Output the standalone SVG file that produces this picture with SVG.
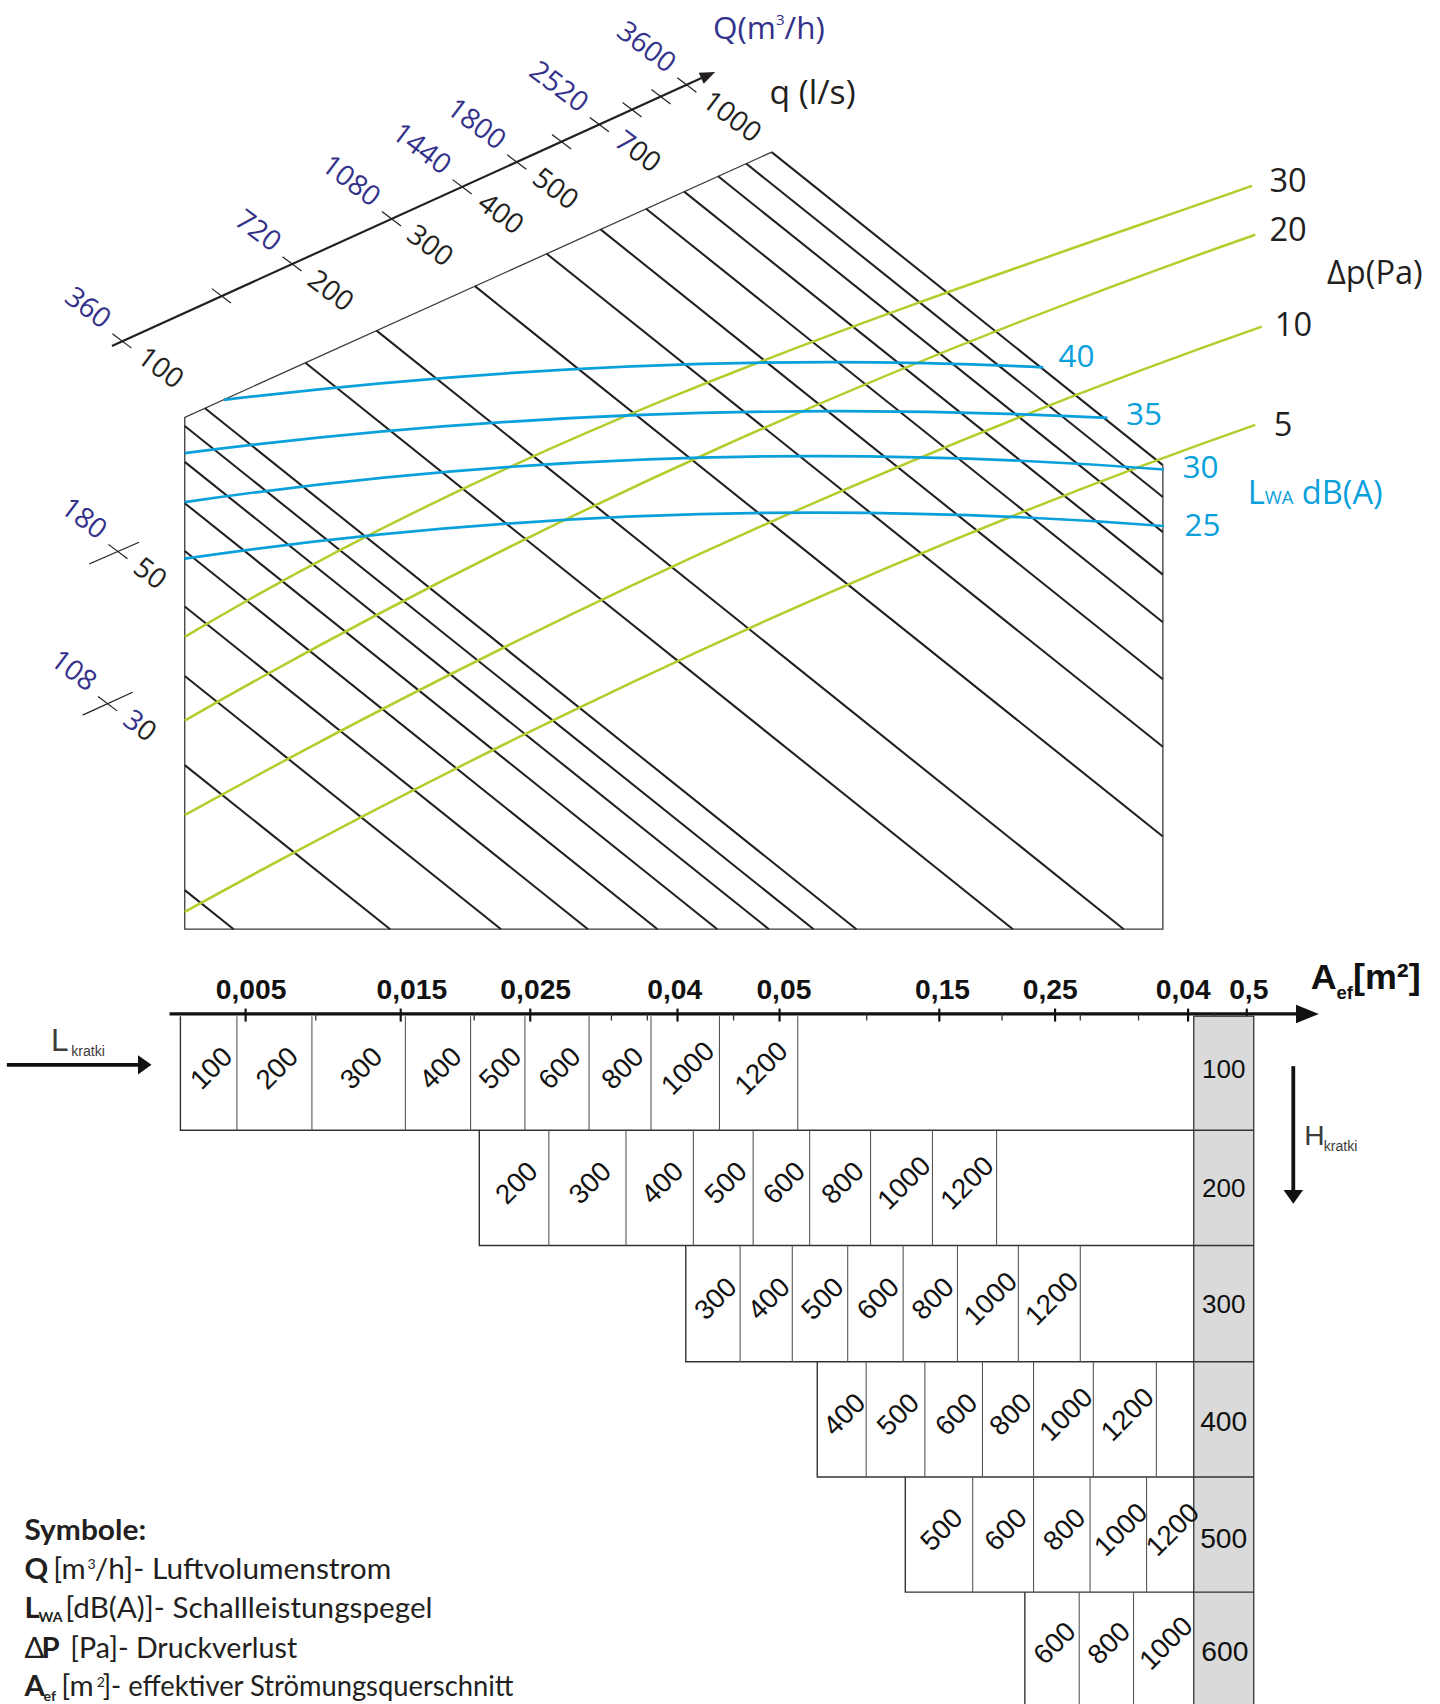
<svg xmlns="http://www.w3.org/2000/svg" width="1440" height="1704" viewBox="0 0 1440 1704">
<defs>
<style>
.blk{stroke:#231f20;stroke-width:1.9;fill:none}
.grn{stroke:#b4cc2c;stroke-width:2.3;fill:none}
.blu{stroke:#0aa0dc;stroke-width:2.5;fill:none}
.frm{stroke:#3a3a3a;stroke-width:1.2;fill:none}
.tk{stroke:#231f20;stroke-width:1.1}
.ax{stroke:#231f20;stroke-width:2}
.os{font-family:'Open Sans','Noto Sans',sans-serif}
.nv{fill:#33318a;font-family:'Open Sans','Noto Sans',sans-serif;font-size:26px}
.dk{fill:#231f20;font-family:'Open Sans','Noto Sans',sans-serif;font-size:26px}
.bl{fill:#0aa0dc;font-family:'Open Sans','Noto Sans',sans-serif;font-size:29px}
.gl{fill:#231f20;font-family:'Open Sans','Noto Sans',sans-serif;font-size:30px}
.tl{stroke:#333;stroke-width:1.3;fill:none}
.tv{stroke:#555;stroke-width:1}
.ct{font-family:'Liberation Sans',Arial,sans-serif;font-size:25.5px;fill:#111;text-anchor:middle}
.gn{font-family:'Liberation Sans',Arial,sans-serif;fill:#111;text-anchor:middle}
.al{font-family:'Liberation Sans',Arial,sans-serif;font-weight:bold;font-size:26px;fill:#111}
.lg{font-family:Lato,'Liberation Sans',sans-serif;font-size:27px;fill:#231f20}
.lb{font-weight:bold}
</style>
</defs>
<g transform="scale(1.0868)">
<g id="q-axis">
<line class="ax" x1="103" y1="318.3" x2="646" y2="71.6"/>
<polygon points="658,66.2 647.5,77 642.9,67" fill="#231f20"/>
<g transform="translate(112.2,313.7) rotate(37)"><line class="tk" x1="-11" x2="11"/><text class="nv" x="-21" y="3" text-anchor="end">360</text><text class="dk" x="21" y="7">100</text></g>
<g transform="translate(203.7,272.2) rotate(37)"><line class="tk" x1="-11" x2="11"/></g>
<g transform="translate(268.7,242.8) rotate(37)"><line class="tk" x1="-11" x2="11"/><text class="nv" x="-21" y="3" text-anchor="end">720</text><text class="dk" x="21" y="7">200</text></g>
<g transform="translate(360.2,201.3) rotate(37)"><line class="tk" x1="-11" x2="11"/><text class="nv" x="-21" y="3" text-anchor="end">1080</text><text class="dk" x="21" y="7">300</text></g>
<g transform="translate(425.2,171.9) rotate(37)"><line class="tk" x1="-11" x2="11"/><text class="nv" x="-21" y="3" text-anchor="end">1440</text><text class="dk" x="21" y="7">400</text></g>
<g transform="translate(475.5,149.1) rotate(37)"><line class="tk" x1="-11" x2="11"/><text class="nv" x="-21" y="3" text-anchor="end">1800</text><text class="dk" x="21" y="7">500</text></g>
<g transform="translate(516.7,130.4) rotate(37)"><line class="tk" x1="-11" x2="11"/></g>
<g transform="translate(551.5,114.7) rotate(37)"><line class="tk" x1="-11" x2="11"/><text class="nv" x="-21" y="3" text-anchor="end">2520</text><text class="dk" x="21" y="7"><tspan fill="#33318a">7</tspan>00</text></g>
<g transform="translate(581.6,101) rotate(37)"><line class="tk" x1="-11" x2="11"/></g>
<g transform="translate(608.2,89) rotate(37)"><line class="tk" x1="-11" x2="11"/></g>
<g transform="translate(632,78.2) rotate(37)"><line class="tk" x1="-11" x2="11"/><text class="nv" x="-21" y="3" text-anchor="end">3600</text><text class="dk" x="21" y="7">1000</text></g>
<text class="os" x="656" y="36" font-size="29" fill="#33318a">Q(m<tspan font-size="14" dy="-13">3</tspan><tspan dy="13">/h)</tspan></text>
<text class="os" x="708" y="96" font-size="31" fill="#231f20">q (l/s)</text>
</g>
<g id="side-marks">
<line class="tk" x1="82" y1="519" x2="128" y2="499"/>
<g transform="translate(108.5,507.5) rotate(37)"><line class="tk" x1="-11" x2="11"/><text class="nv" x="-21" y="3" text-anchor="end">180</text><text class="dk" x="21" y="7">50</text></g>
<line class="tk" x1="76" y1="658" x2="122" y2="637"/>
<g transform="translate(99,647.5) rotate(37)"><line class="tk" x1="-11" x2="11"/><text class="nv" x="-21" y="3" text-anchor="end">108</text><text class="dk" x="21" y="7"><tspan fill="#33318a">3</tspan>0</text></g>
</g>
<g id="chart-frame">
<polyline class="frm" points="710,140 170,384 170,855 1070,855 1070,428"/>
</g>
<g id="iso-lines" class="blk">
<line x1="188.6" y1="375.6" x2="788" y2="855"/>
<line x1="281" y1="333.8" x2="932" y2="855"/>
<line x1="346.5" y1="304.2" x2="1034" y2="855"/>
<line x1="437" y1="263.3" x2="1070" y2="769.7"/>
<line x1="503" y1="233.5" x2="1070" y2="687.1"/>
<line x1="552.6" y1="211.1" x2="1070" y2="625"/>
<line x1="594.5" y1="192.1" x2="1070" y2="572.5"/>
<line x1="629.5" y1="176.3" x2="1070" y2="528.7"/>
<line x1="660.8" y1="162.2" x2="1070" y2="489.6"/>
<line x1="686.5" y1="150.5" x2="1070" y2="457.3"/>
<line x1="710" y1="140" x2="1070" y2="428"/>
<line x1="170" y1="392" x2="748.7" y2="855"/>
<line x1="170" y1="425" x2="707.5" y2="855"/>
<line x1="170" y1="463" x2="660" y2="855"/>
<line x1="170" y1="507" x2="605" y2="855"/>
<line x1="170" y1="558" x2="541" y2="855"/>
<line x1="170" y1="622" x2="461" y2="855"/>
<line x1="170" y1="704" x2="359" y2="855"/>
<line x1="170" y1="819" x2="215" y2="855"/>
</g>
<g id="dp-curves" class="grn">
<path d="M170,586 C500,389 822,286.5 1152,171"/>
<path d="M170,663 C500,473.6 825,331.4 1155,216"/>
<path d="M170,750 C500,567 831,416 1161,300.6"/>
<path d="M170,839 C500,657 825,506.5 1155,391"/>
</g>
<g id="lwa-curves" class="blu">
<path d="M206,368 C456,338 710,325.5 960,338"/>
<path d="M170,417 C450,380.6 739,370.5 1019,384.5"/>
<path d="M170,462 C470,418 773,409 1071,432"/>
<path d="M170,514 C470,470 773,461 1071,484"/>
</g>
<g id="chart-labels">
<text class="gl" x="1168" y="177">30</text>
<text class="gl" x="1168" y="222">20</text>
<text class="gl" x="1173" y="309">10</text>
<text class="gl" x="1172" y="401">5</text>
<text class="gl" x="1221" y="261">Δp(Pa)</text>
<text class="bl" x="974" y="338">40</text>
<text class="bl" x="1036" y="391">35</text>
<text class="bl" x="1088" y="440">30</text>
<text class="bl" x="1090" y="493">25</text>
<text class="bl" x="1148" y="464"><tspan font-size="30">L</tspan><tspan font-size="17">WA</tspan><tspan font-size="30"> dB(A)</tspan></text>
</g>
<g id="aef-axis">
<line x1="156" y1="933" x2="1194" y2="933" stroke="#111" stroke-width="3"/>
<polygon points="1213.5,933 1192.5,924.5 1192.5,941.5" fill="#111"/>
<g stroke="#111" stroke-width="2">
<line x1="226" y1="928" x2="226" y2="940"/><line x1="368.7" y1="928" x2="368.7" y2="940"/><line x1="487.9" y1="928" x2="487.9" y2="940"/><line x1="623.4" y1="928" x2="623.4" y2="940"/><line x1="717.3" y1="928" x2="717.3" y2="940"/><line x1="864.3" y1="928" x2="864.3" y2="940"/><line x1="970.8" y1="928" x2="970.8" y2="940"/><line x1="1093.2" y1="928" x2="1093.2" y2="940"/><line x1="1147.2" y1="928" x2="1147.2" y2="940"/>
</g>
<g stroke="#333" stroke-width="1.2">
<line x1="290.6" y1="933" x2="290.6" y2="939"/><line x1="436.3" y1="933" x2="436.3" y2="939"/><line x1="562.6" y1="933" x2="562.6" y2="939"/><line x1="595.6" y1="933" x2="595.6" y2="939"/><line x1="675" y1="933" x2="675" y2="939"/><line x1="797.5" y1="933" x2="797.5" y2="939"/><line x1="922" y1="933" x2="922" y2="939"/><line x1="994" y1="933" x2="994" y2="939"/><line x1="1047.6" y1="933" x2="1047.6" y2="939"/><line x1="1117.8" y1="933" x2="1117.8" y2="939"/>
</g>
<text class="al" x="198.5" y="919.4">0,005</text>
<text class="al" x="346.4" y="919.4">0,015</text>
<text class="al" x="460.4" y="919.4">0,025</text>
<text class="al" x="595.6" y="919.4">0,04</text>
<text class="al" x="696" y="919.4">0,05</text>
<text class="al" x="842" y="919.4">0,15</text>
<text class="al" x="941" y="919.4">0,25</text>
<text class="al" x="1063.5" y="919.4">0,04</text>
<text class="al" x="1131" y="919.4">0,5</text>
<text class="al" x="1206" y="910" style="font-size:33px">A<tspan style="font-size:17px" dy="9">ef</tspan><tspan dy="-9">[m²]</tspan></text>
</g>
<g id="table">
<rect x="1098.4" y="935" width="55.2" height="640" fill="#d9dad9" stroke="#333" stroke-width="1.2"/>
<g class="tl">
<polyline points="1153.6,1040 166,1040 166,935"/>
<polyline points="1153.6,1146 441,1146 441,1040"/>
<polyline points="1153.6,1253 631,1253 631,1146"/>
<polyline points="1153.6,1359 752,1359 752,1253"/>
<polyline points="1153.6,1465 833,1465 833,1359"/>
<polyline points="943,1570 943,1465"/>
</g>
<g class="tv">
<line x1="218" y1="935" x2="218" y2="1040"/><line x1="287" y1="935" x2="287" y2="1040"/><line x1="373" y1="935" x2="373" y2="1040"/><line x1="433" y1="935" x2="433" y2="1040"/><line x1="483" y1="935" x2="483" y2="1040"/><line x1="542" y1="935" x2="542" y2="1040"/><line x1="599" y1="935" x2="599" y2="1040"/><line x1="662" y1="935" x2="662" y2="1040"/><line x1="734" y1="935" x2="734" y2="1040"/>
<line x1="505" y1="1040" x2="505" y2="1146"/><line x1="576" y1="1040" x2="576" y2="1146"/><line x1="638" y1="1040" x2="638" y2="1146"/><line x1="693" y1="1040" x2="693" y2="1146"/><line x1="745" y1="1040" x2="745" y2="1146"/><line x1="801" y1="1040" x2="801" y2="1146"/><line x1="858" y1="1040" x2="858" y2="1146"/><line x1="917" y1="1040" x2="917" y2="1146"/>
<line x1="681" y1="1146" x2="681" y2="1253"/><line x1="729" y1="1146" x2="729" y2="1253"/><line x1="780" y1="1146" x2="780" y2="1253"/><line x1="831" y1="1146" x2="831" y2="1253"/><line x1="881" y1="1146" x2="881" y2="1253"/><line x1="937" y1="1146" x2="937" y2="1253"/><line x1="994" y1="1146" x2="994" y2="1253"/>
<line x1="797" y1="1253" x2="797" y2="1359"/><line x1="851" y1="1253" x2="851" y2="1359"/><line x1="904" y1="1253" x2="904" y2="1359"/><line x1="951" y1="1253" x2="951" y2="1359"/><line x1="1006" y1="1253" x2="1006" y2="1359"/><line x1="1064" y1="1253" x2="1064" y2="1359"/>
<line x1="895" y1="1359" x2="895" y2="1465"/><line x1="951" y1="1359" x2="951" y2="1465"/><line x1="1003" y1="1359" x2="1003" y2="1465"/><line x1="1055" y1="1359" x2="1055" y2="1465"/>
<line x1="993" y1="1465" x2="993" y2="1570"/><line x1="1043" y1="1465" x2="1043" y2="1570"/>
</g>
<g class="ct">
<text transform="translate(194,982.5) rotate(-45)" y="9">100</text>
<text transform="translate(254.5,982.5) rotate(-45)" y="9">200</text>
<text transform="translate(332,982.5) rotate(-45)" y="9">300</text>
<text transform="translate(405,982.5) rotate(-45)" y="9">400</text>
<text transform="translate(460,982.5) rotate(-45)" y="9">500</text>
<text transform="translate(514.5,982.5) rotate(-45)" y="9">600</text>
<text transform="translate(572.5,982.5) rotate(-45)" y="9">800</text>
<text transform="translate(632.5,982.5) rotate(-45)" y="9">1000</text>
<text transform="translate(700,982.5) rotate(-45)" y="9">1200</text>
<text transform="translate(475,1088) rotate(-45)" y="9">200</text>
<text transform="translate(542.5,1088) rotate(-45)" y="9">300</text>
<text transform="translate(609,1088) rotate(-45)" y="9">400</text>
<text transform="translate(667.5,1088) rotate(-45)" y="9">500</text>
<text transform="translate(721,1088) rotate(-45)" y="9">600</text>
<text transform="translate(775,1088) rotate(-45)" y="9">800</text>
<text transform="translate(831.5,1088) rotate(-45)" y="9">1000</text>
<text transform="translate(889.5,1088) rotate(-45)" y="9">1200</text>
<text transform="translate(658,1194.5) rotate(-45)" y="9">300</text>
<text transform="translate(707,1194.5) rotate(-45)" y="9">400</text>
<text transform="translate(756.5,1194.5) rotate(-45)" y="9">500</text>
<text transform="translate(807.5,1194.5) rotate(-45)" y="9">600</text>
<text transform="translate(858,1194.5) rotate(-45)" y="9">800</text>
<text transform="translate(911,1194.5) rotate(-45)" y="9">1000</text>
<text transform="translate(967.5,1194.5) rotate(-45)" y="9">1200</text>
<text transform="translate(776.5,1301) rotate(-45)" y="9">400</text>
<text transform="translate(826,1301) rotate(-45)" y="9">500</text>
<text transform="translate(879.5,1301) rotate(-45)" y="9">600</text>
<text transform="translate(929.5,1301) rotate(-45)" y="9">800</text>
<text transform="translate(980.5,1301) rotate(-45)" y="9">1000</text>
<text transform="translate(1037,1301) rotate(-45)" y="9">1200</text>
<text transform="translate(866,1407) rotate(-45)" y="9">500</text>
<text transform="translate(925,1407) rotate(-45)" y="9">600</text>
<text transform="translate(979,1407) rotate(-45)" y="9">800</text>
<text transform="translate(1031,1407) rotate(-45)" y="9">1000</text>
<text transform="translate(1078.5,1407) rotate(-45)" y="9">1200</text>
<text transform="translate(970,1511.5) rotate(-45)" y="9">600</text>
<text transform="translate(1020,1511.5) rotate(-45)" y="9">800</text>
<text transform="translate(1072.5,1511.5) rotate(-45)" y="9">1000</text>
</g>
<g class="gn">
<text x="1126" y="992" font-size="24">100</text>
<text x="1126" y="1101" font-size="24">200</text>
<text x="1126" y="1208" font-size="24">300</text>
<text x="1126" y="1317" font-size="26">400</text>
<text x="1126" y="1424.4" font-size="26">500</text>
<text x="1127" y="1528.7" font-size="26">600</text>
</g>
</g>
<g id="connectors">
<line x1="6.3" y1="979.8" x2="128" y2="979.8" stroke="#111" stroke-width="3.5"/>
<polygon points="139.4,979.8 127,971 127,988.6" fill="#111"/>
<line x1="1190" y1="981" x2="1190" y2="1096" stroke="#111" stroke-width="3.5"/>
<polygon points="1190,1107.6 1181,1095 1199,1095" fill="#111"/>
</g>
<g id="kratki-labels" font-family="'Liberation Sans Narrow','Liberation Sans',Arial,sans-serif" fill="#3c3c3c">
<text x="47" y="966.6" font-size="29">L</text>
<text x="65.5" y="972" font-size="13">kratki</text>
<text x="1200" y="1053.4" font-size="26">H</text>
<text x="1218" y="1059.5" font-size="13">kratki</text>
</g>
<g id="legend" class="lg">
<text class="lb" x="22.5" y="1417" textLength="112" lengthAdjust="spacingAndGlyphs">Symbole:</text>
<text class="lb" x="22.5" y="1453">Q</text>
<text x="49" y="1453">[m</text>
<text x="80.5" y="1444" font-size="13">3</text>
<text x="87.3" y="1453" textLength="272.7" lengthAdjust="spacingAndGlyphs">/h]- Luftvolumenstrom</text>
<text class="lb" x="22.5" y="1488.6">L</text>
<text class="lb" x="35.5" y="1492" font-size="13">WA</text>
<text x="60" y="1488.6" textLength="338" lengthAdjust="spacingAndGlyphs">[dB(A)]- Schallleistungspegel</text>
<text x="22.5" y="1525.6">Δ</text>
<text class="lb" x="38.2" y="1525.6">P</text>
<text x="64.7" y="1525.6" textLength="208.8" lengthAdjust="spacingAndGlyphs">[Pa]- Druckverlust</text>
<text class="lb" x="22.5" y="1561">A</text>
<text class="lb" x="40" y="1565" font-size="13">ef</text>
<text x="56.4" y="1561">[m</text>
<text x="89" y="1552" font-size="13">2</text>
<text x="94.5" y="1561" textLength="378" lengthAdjust="spacingAndGlyphs">]- effektiver Strömungsquerschnitt</text>
</g>
</g>
</svg>
